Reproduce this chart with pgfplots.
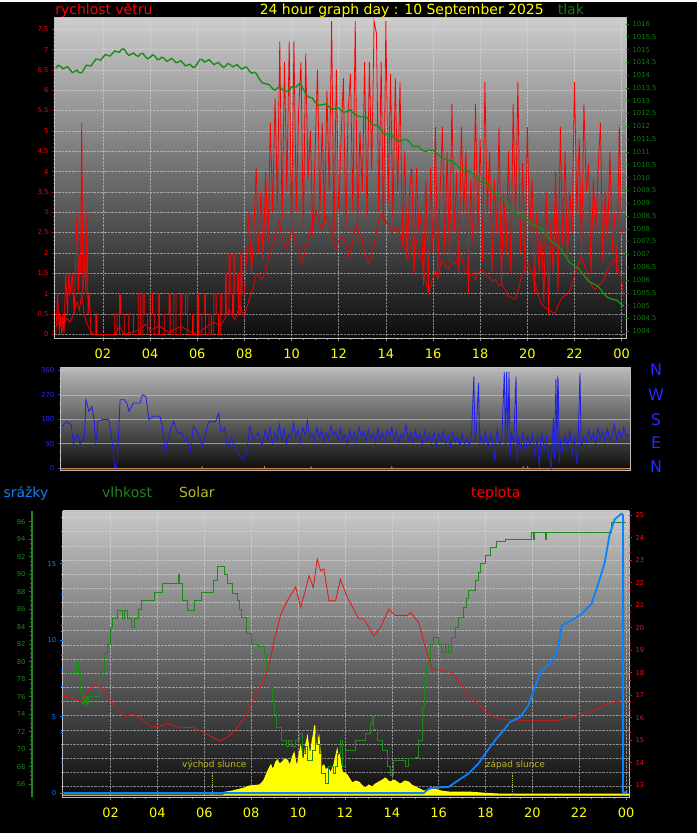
\documentclass[border=0pt]{standalone}
\usepackage{pgfplots}
\pgfplotsset{compat=1.18}
\usepackage{fontspec}
\setmainfont{DejaVu Sans}
\definecolor{wred}{RGB}{255,0,0}
\definecolor{avgred}{RGB}{240,0,0}
\definecolor{pgreen}{RGB}{25,140,25}
\definecolor{tgreen}{RGB}{10,130,10}
\definecolor{dblue}{RGB}{30,30,235}
\definecolor{lblue}{RGB}{40,40,255}
\definecolor{pblue}{RGB}{10,130,255}
\definecolor{hgreen}{RGB}{30,135,30}
\definecolor{tred}{RGB}{230,20,20}
\definecolor{oliv}{RGB}{185,185,40}
\definecolor{ylw}{RGB}{255,255,0}
\definecolor{gridc}{RGB}{220,220,220}
\definecolor{framec}{RGB}{190,190,190}
\definecolor{orng}{RGB}{235,125,35}
\definecolor{bgtop}{RGB}{205,205,205}
\definecolor{mtop}{RGB}{185,185,185}
\definecolor{btop}{RGB}{200,200,200}
\definecolor{bgbot}{RGB}{12,12,12}
\pgfplotsset{
  base/.style={scale only axis, anchor=south west, no markers,
    /pgf/number format/assume math mode=true,
    /pgf/number format/set decimal separator={{,}}, /pgf/number format/1000 sep={},
    tick align=outside, major tick length=3pt, minor tick length=1.5pt,
    ticklabel style={font=\fontsize{6.8}{7.5}\selectfont},
    axis line style={framec, line width=0.8pt}},
  tlabels/.style={xtick={2,4,...,24},
    xticklabels={02,04,06,08,10,12,14,16,18,20,22,00},
    xticklabel style={font=\fontsize{13}{13}\selectfont, text=ylw, yshift=-4pt},
    minor x tick num=3, xtick style={color=gray, line width=0.6pt}},
  dgrid/.style={major grid style={gridc, densely dotted, line width=0.5pt, opacity=0.55}},
}
\begin{document}
\begin{tikzpicture}
\fill[black] (0pt,0pt) rectangle (699pt,833pt);
% ---------------- TOP PANEL: wind speed + pressure
\begin{axis}[base, tlabels, at={(55pt,496pt)}, width=573pt, height=322pt,
  xmin=-0.04, xmax=24.19, ymin=-0.1, ymax=7.79,
  axis background/.style={top color=bgtop, bottom color=bgbot},
  xtick pos=bottom, ytick pos=left,
  ytick={0,0.5,...,7.5}, minor y tick num=4,
  yticklabel style={text=wred}, ytick style={color=wred, line width=0.8pt},
  xmajorgrids, ymajorgrids, dgrid]
\addplot[wred, line width=0.8pt] coordinates {
(0,0) (0.08,1) (0.15,0) (0.2,0.5) (0.25,0) (0.3,0.5) (0.35,0) (0.42,1.5) (0.5,0.5) (0.55,1.5) (0.62,1) (0.7,1.5) (0.78,0.5) (0.85,2) (0.9,3) (0.95,1) (1,2) (1.05,1.5) (1.1,5.2) (1.15,1) (1.22,2) (1.28,1) (1.32,3) (1.37,0.5) (1.42,1) (1.5,0)
(1.7,0) (1.7,0.5) (1.75,0.5) (1.75,0) (2.5,0) (2.5,0.5) (2.6,0.5) (2.6,0) (2.7,0) (2.7,1) (2.75,1) (2.75,0.5) (2.9,0.5) (2.9,0) (3.1,0) (3.1,0.5) (3.3,0.5) (3.3,0) (3.5,0) (3.5,1) (3.6,1) (3.6,0) (3.7,0) (3.7,1) (3.75,1) (3.75,0.5) (3.9,0.5) (3.9,0) (4.0,0) (4.0,1) (4.1,1) (4.1,0.5) (4.2,0.5) (4.2,0) (4.35,0) (4.35,1) (4.4,1) (4.4,0) (4.6,0) (4.6,0.5) (4.8,0.5) (4.8,1) (4.85,1) (4.85,0) (5.0,0) (5.0,1) (5.1,1) (5.1,0) (5.3,0) (5.3,1) (5.35,1) (5.35,0.5) (5.5,0.5) (5.5,1) (5.6,1) (5.6,0) (5.8,0) (5.8,0.5) (5.85,0.5) (5.85,0) (6.0,0) (6.0,1) (6.05,1) (6.05,0) (6.2,0) (6.2,0.5) (6.3,0.5) (6.3,1) (6.35,1) (6.35,0) (6.5,0) (6.5,0.5) (6.6,0.5) (6.6,0) (6.7,0) (6.7,1) (6.8,1) (6.8,0.5) (6.9,0.5) (6.9,0) (7.0,0) (7.0,1) (7.05,1) (7.05,0.5) (7.2,0.5) (7.2,1.5) (7.25,1.5) (7.25,0.5) (7.35,0.5) (7.35,2) (7.4,2) (7.4,1) (7.5,1) (7.5,0.5) (7.55,0.5) (7.55,2) (7.6,2) (7.6,1) (7.7,1) (7.7,1.5) (7.75,1.5) (7.75,0.5) (7.85,0.5) (7.85,2) (7.9,2) (7.9,1)
(8.0,1.0) (8.1,2.0) (8.2,3.0) (8.3,1.5) (8.4,2.5) (8.5,4.1) (8.6,2.0) (8.7,3.5) (8.8,1.8) (8.9,4.0) (9.0,2.2) (9.1,5.2) (9.2,3.0) (9.3,5.8) (9.4,3.2) (9.5,7.2) (9.6,2.8) (9.7,6.7) (9.8,3.5) (9.9,7.2) (10.0,2.6) (10.1,7.2) (10.2,3.0) (10.3,5.5) (10.4,6.7) (10.5,2.5) (10.6,6.9) (10.7,3.8) (10.8,5.0) (10.9,2.4) (11.0,4.5) (11.1,6.5) (11.2,3.0) (11.3,5.2) (11.4,2.8) (11.5,6.0) (11.6,3.5) (11.7,7.7) (11.8,2.4) (11.9,6.5) (12.0,3.0) (12.1,4.8) (12.2,6.3) (12.3,2.5) (12.4,5.5) (12.5,6.4) (12.6,3.0) (12.7,7.7) (12.8,2.6) (12.9,5.0) (13.0,3.5) (13.1,6.7) (13.2,2.8) (13.3,6.7) (13.4,4.0) (13.5,7.7) (13.6,7.4) (13.7,3.0) (13.8,6.7) (13.9,2.5) (14.0,7.7) (14.1,3.2) (14.2,6.4) (14.3,2.8) (14.4,6.3) (14.5,3.5) (14.6,6.2) (14.7,2.2) (14.8,4.5) (14.9,1.8) (15.0,3.5) (15.1,4.1) (15.2,1.5) (15.3,4.1) (15.4,2.5) (15.5,3.0) (15.6,1.2) (15.7,3.8) (15.8,1.0) (15.9,4.1) (16.0,2.0) (16.1,5.1) (16.2,1.5) (16.3,3.5) (16.4,5.1) (16.5,2.0) (16.6,4.5) (16.7,1.8) (16.8,5.66) (16.9,2.5) (17.0,4.0) (17.1,1.5) (17.2,5.1) (17.3,3.0) (17.4,4.5) (17.5,1.0) (17.6,3.8) (17.7,2.2) (17.8,5.66) (17.9,2.5) (18.0,4.8) (18.1,1.8) (18.2,6.2) (18.3,3.0) (18.4,4.5) (18.5,1.5) (18.6,3.8) (18.7,2.5) (18.8,5.1) (18.9,1.2) (19.0,3.5) (19.1,2.0) (19.2,4.5) (19.3,1.5) (19.4,5.66) (19.5,2.8) (19.6,6.2) (19.7,2.0) (19.8,4.2) (19.9,1.5) (20.0,5.1) (20.1,2.5) (20.2,3.8) (20.3,1.0) (20.4,3.0) (20.5,1.5) (20.6,2.5) (20.7,0.8) (20.8,3.5) (20.9,0.5) (21.0,2.8) (21.1,1.5) (21.2,4.0) (21.3,1.0) (21.4,5.1) (21.5,2.2) (21.6,4.5) (21.7,1.8) (21.8,3.5) (21.9,2.5) (22.0,6.2) (22.1,3.0) (22.2,4.8) (22.3,2.0) (22.4,5.66) (22.5,3.5) (22.6,4.2) (22.7,1.5) (22.8,3.8) (22.9,2.5) (23.0,4.0) (23.1,5.2) (23.2,1.8) (23.3,3.5) (23.4,2.2) (23.5,4.5) (23.6,2.0) (23.7,3.0) (23.8,1.5) (23.9,5.1) (24.0,2.5) (24.1,2.6)
};
\addplot[avgred, line width=0.8pt] coordinates {
(0.0,0.2) (0.15,0.3) (0.3,0.1) (0.45,0.4) (0.6,0.3) (0.75,0.5) (0.9,0.8) (1.0,0.6) (1.1,1.0) (1.2,0.5) (1.3,0.3) (1.45,0.1) (1.6,0.0) (2.5,0.0) (2.7,0.2) (2.9,0.0) (3.5,0.1) (3.8,0.25) (4.0,0.1) (4.4,0.2) (4.8,0.05) (5.3,0.2) (5.6,0.1) (6.0,0.0) (6.3,0.15) (6.7,0.3) (7.0,0.2) (7.36,0.6) (7.6,0.35) (7.8,0.7) (7.99,0.44) (8.2,0.86) (8.35,1.1) (8.5,1.5) (8.75,1.35) (8.9,1.55) (9.05,2.0) (9.2,2.2) (9.34,2.5) (9.47,2.8) (9.6,2.4) (9.77,2.1) (9.9,2.3) (10.02,2.6) (10.15,2.3) (10.32,2.1) (10.44,1.75) (10.6,2.1) (10.74,2.5) (10.9,2.7) (11.04,3.05) (11.15,2.8) (11.29,2.6) (11.45,2.9) (11.59,2.7) (11.75,2.4) (11.88,2.1) (12.0,2.3) (12.14,2.4) (12.3,2.2) (12.43,1.9) (12.6,2.3) (12.73,2.7) (12.85,2.5) (12.98,2.4) (13.1,2.0) (13.28,1.74) (13.45,2.1) (13.57,2.4) (13.7,2.8) (13.83,2.97) (13.97,2.8) (14.12,2.7) (14.25,2.5) (14.42,2.65) (14.55,2.5) (14.67,2.33) (14.8,2.1) (14.97,1.9) (15.1,2.2) (15.26,2.4) (15.4,2.0) (15.52,1.84) (15.65,1.4) (15.81,1.0) (15.95,1.3) (16.11,1.6) (16.2,1.35) (16.36,1.84) (16.5,1.7) (16.66,1.6) (16.8,1.8) (16.96,1.74) (17.1,2.0) (17.21,1.9) (17.35,1.6) (17.51,1.42) (17.65,1.5) (17.8,1.35) (17.9,1.5) (18.05,1.6) (18.2,1.5) (18.35,1.42) (18.5,1.3) (18.65,1.35) (18.78,1.2) (18.9,1.25) (19.05,1.1) (19.2,0.93) (19.35,0.9) (19.49,0.86) (19.62,1.1) (19.75,1.42) (19.9,1.6) (20.04,1.74) (20.2,1.5) (20.34,1.25) (20.45,1.0) (20.59,0.76) (20.75,0.65) (20.89,0.61) (21.05,0.55) (21.18,0.52) (21.3,0.7) (21.42,0.86) (21.58,0.95) (21.73,1.0) (21.88,1.2) (22.03,1.5) (22.15,1.7) (22.28,1.9) (22.42,1.7) (22.58,1.42) (22.72,1.2) (22.88,1.1) (23.0,1.2) (23.13,1.25) (23.28,1.4) (23.42,1.6) (23.58,1.75) (23.72,1.84) (23.85,1.6) (23.97,1.42) (24.1,0.93)
};
\end{axis}
\begin{axis}[base, at={(55pt,496pt)}, width=573pt, height=322pt,
  xmin=-0.04, xmax=24.19, ymin=1003.72, ymax=1016.26,
  axis x line=none, axis y line*=right, y axis line style={draw=none},
  ytick={1004,1004.5,...,1016}, minor y tick num=1,
  yticklabel style={text=tgreen}, ytick style={color=tgreen, line width=0.8pt}]
\addplot[pgreen, line width=1.4pt] coordinates {
(0.0,1014.28) (0.1,1014.39) (0.2,1014.35) (0.3,1014.25) (0.4,1014.30) (0.5,1014.33) (0.6,1014.22) (0.7,1014.11) (0.8,1014.15) (0.9,1014.20) (1.0,1014.10) (1.1,1014.10) (1.2,1014.25) (1.3,1014.39) (1.4,1014.38) (1.5,1014.37) (1.6,1014.50) (1.7,1014.63) (1.8,1014.62) (1.9,1014.59) (2.0,1014.70) (2.1,1014.81) (2.2,1014.78) (2.3,1014.75) (2.4,1014.85) (2.5,1014.95) (2.6,1014.92) (2.7,1014.90) (2.8,1015.02) (2.9,1015.02) (3.0,1014.88) (3.1,1014.78) (3.2,1014.82) (3.3,1014.87) (3.4,1014.78) (3.5,1014.74) (3.6,1014.84) (3.7,1014.85) (3.8,1014.72) (3.9,1014.64) (4.0,1014.70) (4.1,1014.80) (4.2,1014.76) (4.3,1014.62) (4.4,1014.62) (4.5,1014.71) (4.6,1014.66) (4.7,1014.55) (4.8,1014.58) (4.9,1014.66) (5.0,1014.60) (5.1,1014.49) (5.2,1014.52) (5.3,1014.57) (5.4,1014.47) (5.5,1014.37) (5.6,1014.40) (5.7,1014.43) (5.8,1014.32) (5.9,1014.32) (6.0,1014.45) (6.1,1014.61) (6.2,1014.62) (6.3,1014.52) (6.4,1014.56) (6.5,1014.61) (6.6,1014.52) (6.7,1014.42) (6.8,1014.46) (6.9,1014.50) (7.0,1014.40) (7.1,1014.31) (7.2,1014.36) (7.3,1014.46) (7.4,1014.42) (7.5,1014.33) (7.6,1014.38) (7.7,1014.41) (7.8,1014.30) (7.9,1014.24) (8.0,1014.31) (8.1,1014.31) (8.2,1014.18) (8.3,1014.08) (8.4,1014.12) (8.5,1014.08) (8.6,1013.90) (8.75,1013.71) (8.9,1013.67) (9.05,1013.64) (9.2,1013.47) (9.3,1013.42) (9.4,1013.50) (9.5,1013.55) (9.6,1013.45) (9.75,1013.36) (9.9,1013.40) (10.0,1013.55) (10.1,1013.55) (10.2,1013.54) (10.32,1013.67) (10.41,1013.63) (10.5,1013.45) (10.62,1013.23) (10.74,1013.15) (10.87,1013.12) (11.0,1012.95) (11.15,1012.83) (11.3,1012.85) (11.45,1012.88) (11.6,1012.76) (11.72,1012.66) (11.85,1012.70) (11.97,1012.74) (12.1,1012.63) (12.22,1012.55) (12.35,1012.60) (12.47,1012.65) (12.6,1012.55) (12.8,1012.40) (13.0,1012.38) (13.15,1012.38) (13.3,1012.24) (13.42,1012.08) (13.55,1012.05) (13.67,1012.02) (13.8,1011.85) (13.95,1011.71) (14.1,1011.70) (14.25,1011.68) (14.4,1011.52) (14.55,1011.42) (14.7,1011.46) (14.85,1011.50) (15.0,1011.40) (15.12,1011.24) (15.25,1011.22) (15.37,1011.23) (15.5,1011.10) (15.65,1011.02) (15.8,1011.07) (16.0,1011.07) (16.2,1010.92) (16.4,1010.74) (16.6,1010.70) (16.8,1010.66) (17.0,1010.48) (17.2,1010.31) (17.4,1010.27) (17.6,1010.23) (17.8,1010.05) (18.0,1009.86) (18.2,1009.80) (18.3,1009.80) (18.4,1009.65) (18.6,1009.41) (18.8,1009.30) (19.0,1009.16) (19.2,1008.87) (19.4,1008.67) (19.6,1008.60) (19.8,1008.55) (20.0,1008.36) (20.2,1008.16) (20.4,1008.10) (20.6,1008.01) (20.8,1007.78) (21.0,1007.52) (21.2,1007.40) (21.4,1007.25) (21.6,1006.95) (21.8,1006.68) (22.0,1006.55) (22.2,1006.44) (22.4,1006.18) (22.6,1005.95) (22.8,1005.85) (23.0,1005.76) (23.2,1005.52) (23.4,1005.32) (23.6,1005.25) (23.8,1005.22) (24.0,1005.04) (24.1,1004.98)
};
\end{axis}
% ---------------- MIDDLE PANEL: wind direction
\begin{axis}[base, at={(61pt,364pt)}, width=571pt, height=103pt,
  xmin=-0.13, xmax=24.17, ymin=-7, ymax=371,
  axis background/.style={top color=mtop, bottom color=bgbot},
  xtick=\empty, ytick={0,90,180,270,360}, minor y tick num=2, ytick pos=left,
  yticklabel style={text=lblue}, ytick style={color=lblue, line width=0.8pt},
  ymajorgrids, major grid style={gray!50!white, line width=0.6pt, opacity=0.7}]
\addplot[orng, line width=1pt] coordinates {(-0.13,-3) (5.88,-3) (5.9,3) (5.92,-3) (8.54,-3) (8.56,3) (8.58,-3) (10.53,-3) (10.55,3) (10.57,-3) (13.98,-3) (14.0,3) (14.02,-3) (19.58,-3) (19.6,3) (19.62,-3) (19.78,-3) (19.8,3) (19.82,-3) (24.17,-3)};
\addplot[dblue, line width=0.8pt] coordinates {
(-0.07,154) (0.12,172) (0.2,165) (0.31,160) (0.41,88) (0.5,115) (0.6,124) (0.69,88) (0.88,118) (0.94,252) (1.07,209) (1.2,227) (1.3,172) (1.36,88) (1.45,172) (1.64,179) (1.92,179) (2.02,124) (2.11,57) (2.17,2) (2.25,2) (2.3,57) (2.4,252) (2.59,252) (2.7,235) (2.78,209) (2.97,240) (3.25,240) (3.35,270) (3.5,264) (3.63,179) (3.82,191) (4.1,191) (4.2,154) (4.33,57) (4.45,106) (4.55,140) (4.68,172) (4.86,130) (5.06,130) (5.15,100) (5.24,112) (5.4,63) (5.53,154) (5.72,130) (5.91,81) (6.04,124) (6.19,172) (6.48,172) (6.61,203) (6.71,130) (6.86,148) (6.99,70) (7.14,112) (7.33,70) (7.52,45) (7.67,33) (7.8,57) (7.94,154) (8.09,106) (8.28,130) (8.47,88)
(8.6,140) (8.7,100) (8.8,150) (8.9,95) (9.0,130) (9.1,105) (9.2,160) (9.3,100) (9.4,145) (9.5,90) (9.6,125) (9.7,110) (9.8,165) (9.9,115) (10.0,140) (10.1,95) (10.2,150) (10.3,120) (10.4,175) (10.5,110) (10.6,130) (10.7,100) (10.8,150) (10.9,115) (11.0,140) (11.1,95) (11.2,130) (11.3,105) (11.4,155) (11.5,120) (11.6,135) (11.7,100) (11.8,145) (11.9,110) (12.0,125) (12.1,90) (12.2,140) (12.3,105) (12.4,130) (12.5,95) (12.6,150) (12.7,115) (12.8,135) (12.9,100) (13.0,140) (13.1,110) (13.2,125) (13.3,95) (13.4,145) (13.5,105) (13.6,130) (13.7,100) (13.8,140) (13.9,115) (14.0,150) (14.1,105) (14.2,135) (14.3,95) (14.4,125) (14.5,110) (14.6,160) (14.7,100) (14.8,130) (14.9,95) (15.0,140) (15.1,105) (15.2,125) (15.3,90) (15.4,135) (15.5,100) (15.6,120) (15.7,95) (15.8,130) (15.9,85) (16.0,125) (16.1,100) (16.2,135) (16.3,90) (16.4,120) (16.5,80) (16.6,130) (16.7,95) (16.8,115) (16.9,85) (17.0,125) (17.1,90) (17.2,110) (17.3,80) (17.4,120) (17.5,337) (17.55,95) (17.6,130) (17.7,314) (17.75,85) (17.8,120) (17.9,90) (18.0,135) (18.1,75) (18.2,125) (18.3,95) (18.4,27) (18.45,110) (18.5,140) (18.6,85) (18.7,120) (18.8,354) (18.85,60) (18.9,354) (18.95,100) (19.0,354) (19.05,40) (19.1,130) (19.2,90) (19.3,337) (19.35,21) (19.4,110) (19.5,75) (19.6,130) (19.7,60) (19.8,115) (19.9,85) (20.0,125) (20.1,50) (20.2,110) (20.3,2) (20.35,95) (20.4,130) (20.5,70) (20.6,115) (20.7,40) (20.8,0) (20.85,110) (20.9,185) (20.95,30) (21.0,327) (21.05,60) (21.08,333) (21.1,327) (21.15,20) (21.2,100) (21.3,60) (21.4,120) (21.5,75) (21.6,140) (21.7,50) (21.8,110) (21.9,15) (21.95,95) (22.03,352) (22.08,80) (22.2,120) (22.3,95) (22.4,140) (22.5,105) (22.6,130) (22.7,90) (22.8,150) (22.9,110) (23.0,135) (23.1,95) (23.2,145) (23.3,105) (23.4,120) (23.5,160) (23.6,100) (23.7,140) (23.8,110) (23.9,150) (24.0,115) (24.1,125)
};
\end{axis}
% ---------------- BOTTOM PANEL
\begin{axis}[base, tlabels, at={(63pt,36pt)}, width=568pt, height=287pt,
  xmin=-0.04, xmax=24.13, ymin=-2, ymax=285,
  axis background/.style={top color=btop, bottom color=bgbot},
  xtick pos=bottom, ytick pos=left,
  ytick={400}, minor ytick={8.7,22.9,...,278.5},
  xmajorgrids, yminorgrids, dgrid,
  minor grid style={gridc, densely dotted, line width=0.5pt, opacity=0.55}]
\addplot[draw=ylw, fill=ylw, line width=1.2pt] coordinates {
(-0.04,0) (6.85,0) (6.85,2.7) (7.2,4) (7.49,5.7) (7.7,7) (7.91,9) (8.1,9.5) (8.34,10) (8.45,12) (8.55,15) (8.62,19) (8.69,23) (8.77,27) (8.84,30) (8.9,26) (8.98,28) (9.05,33) (9.12,35) (9.2,31) (9.33,33) (9.42,36) (9.55,35) (9.62,30) (9.69,32) (9.76,38) (9.83,42) (9.9,33) (9.97,28) (10.04,40) (10.11,48) (10.18,36) (10.26,37) (10.33,50) (10.4,58) (10.47,44) (10.54,42) (10.61,55) (10.67,62) (10.71,70) (10.75,52) (10.8,45) (10.85,55) (10.89,58) (10.95,40) (11.0,28) (11.1,30) (11.18,25) (11.28,27) (11.39,22) (11.46,26) (11.53,30) (11.6,38) (11.67,45) (11.72,36) (11.77,40) (11.83,30) (11.89,23) (12.0,22) (12.1,20) (12.2,16) (12.31,12) (12.45,14) (12.6,13) (12.75,9) (12.88,7) (13.02,10) (13.16,8) (13.3,11) (13.45,13) (13.6,15) (13.73,17) (13.85,14) (13.94,13) (14.1,15) (14.23,13) (14.35,11) (14.44,12) (14.55,14) (14.72,13) (14.85,10) (15.01,8) (15.2,6) (15.36,4) (15.6,5) (15.86,6) (16.1,4) (16.43,3) (17.28,3) (17.84,2) (18.13,1.5) (18.55,1) (24.13,0.8) (24.13,0)
} \closedcycle;
\addplot[oliv, densely dotted, line width=0.8pt] coordinates {(6.34,0) (6.34,23)};
\addplot[oliv, densely dotted, line width=0.8pt] coordinates {(19.15,0) (19.15,23)};
\end{axis}
\begin{axis}[base, at={(63pt,36pt)}, width=568pt, height=287pt,
  xmin=-0.04, xmax=24.13, ymin=64.52, ymax=97.25, hide axis]
\addplot[hgreen, line width=1pt, const plot] coordinates {
(0.05,78.0) (0.15,78.8) (0.55,79.9) (0.62,78.8) (0.7,76.7) (0.78,75.2) (0.85,76.0) (0.9,75.0) (0.95,76.0) (1.0,75.2) (1.05,76.0) (1.53,77.9) (1.6,78.8) (1.74,80.9) (1.85,82.0) (2.0,83.9) (2.1,84.9) (2.3,85.9) (2.5,84.9) (2.6,85.9) (2.7,84.9) (2.9,83.9) (3.0,84.9) (3.2,86.0) (3.3,87.0) (3.87,87.9) (4.23,88.9) (4.9,90.0) (4.96,88.9) (5.08,87.0) (5.29,85.9) (5.57,87.0) (5.86,87.9) (6.4,89.3) (6.57,90.9) (6.85,90.0) (7.0,88.9) (7.2,87.8) (7.4,87.0) (7.5,86.0) (7.6,85.1) (7.8,83.2) (8.0,82.0) (8.3,81.7) (8.55,80.9) (8.65,78.6) (8.8,77.0) (8.9,75.6) (9.0,74.0) (9.1,72.5) (9.3,71.0) (9.5,70.3) (9.6,71.0) (9.7,70.3) (9.9,71.0) (10.05,71.8) (10.2,69.5) (10.3,70.3) (10.4,68.7) (10.6,69.9) (10.75,71.8) (10.85,70.5) (10.9,69.5) (11.0,67.2) (11.15,66.1) (11.3,68.0) (11.5,67.2) (11.6,68.0) (11.7,69.5) (11.8,71.0) (11.89,68.0) (12.03,69.9) (12.45,71.0) (12.88,71.8) (13.09,72.9) (13.16,73.9) (13.23,72.2) (13.37,71.0) (13.59,69.9) (13.8,68.0) (13.94,67.0) (14.09,68.7) (14.58,68.0) (14.72,68.9) (15.01,69.1) (15.15,71.0) (15.29,74.8) (15.4,77.9) (15.5,79.8) (15.65,82.0) (15.79,82.8) (16.0,82.0) (16.14,81.1) (16.28,82.0) (16.43,81.1) (16.57,82.8) (16.71,83.9) (16.85,85.1) (17.06,86.2) (17.2,87.2) (17.28,88.1) (17.56,89.3) (17.7,90.2) (17.77,91.2) (17.99,92.1) (18.2,93.1) (18.48,93.8) (18.84,94.0) (19.97,94.8) (20.05,94.0) (20.1,94.8) (20.55,94.0) (20.6,94.8) (23.23,94.8) (23.38,95.9) (24.0,95.9)
};
\end{axis}
\begin{axis}[base, at={(32pt,36pt)}, width=1pt, height=287pt,
  xmin=0, xmax=1, ymin=64.52, ymax=97.25,
  axis x line=none, axis y line*=left, y axis line style={hgreen, line width=1.8pt},
  ytick={66,68,...,96}, minor y tick num=3,
  yticklabel style={text=hgreen}, ytick style={color=hgreen, line width=0.8pt}]
\end{axis}
\begin{axis}[base, at={(63pt,36pt)}, width=568pt, height=287pt,
  xmin=-0.04, xmax=24.13, ymin=12.47, ymax=25.18,
  axis x line=none, axis y line*=right, y axis line style={draw=none},
  ytick={13,14,...,25}, minor y tick num=2,
  yticklabel style={text=tred}, ytick style={color=tred, line width=0.8pt}]
\addplot[tred, line width=0.8pt] coordinates {
(0.0,16.94) (0.11,16.94) (0.4,16.85) (0.75,16.69) (1.03,17.2) (1.32,17.5) (1.53,17.5) (1.89,16.9) (2.24,16.47) (2.6,16.05) (2.95,16.17) (3.3,15.95) (3.73,15.58) (4.01,15.6) (4.44,15.73) (4.86,15.58) (5.57,15.55) (6.07,15.29) (6.64,14.96) (6.99,15.14) (7.42,15.58) (7.84,16.17) (8.13,16.91) (8.55,17.65) (8.77,18.39) (8.98,19.42) (9.26,20.6) (9.54,21.19) (9.9,21.81) (10.11,20.9) (10.3,21.6) (10.47,22.3) (10.65,21.78) (10.82,23.04) (10.96,22.52) (11.1,22.6) (11.32,21.19) (11.6,21.19) (11.81,22.15) (12.1,21.34) (12.6,20.38) (12.81,20.38) (13.23,19.64) (13.52,20.01) (13.87,20.82) (14.16,20.53) (14.65,20.53) (14.8,20.67) (15.15,20.23) (15.43,19.12) (15.72,18.17) (16.14,18.09) (16.57,18.02) (16.85,17.65) (17.28,16.91) (17.7,16.62) (17.99,16.24) (18.41,16.02) (18.84,15.91) (19.4,15.88) (21.1,15.88) (21.67,16.02) (22.24,16.17) (22.81,16.4) (23.23,16.62) (23.8,16.76)
};
\end{axis}
\begin{axis}[base, at={(63pt,36pt)}, width=568pt, height=287pt,
  xmin=-0.04, xmax=24.13, ymin=-0.26, ymax=18.46,
  axis x line=none, axis y line*=left, y axis line style={draw=none},
  ytick={0,5,10,15}, minor y tick num=4,
  yticklabel style={text=pblue}, ytick style={color=pblue, line width=0.8pt}]
\addplot[pblue, line width=1.8pt] coordinates {
(-0.02,0) (15.36,0) (15.6,0.3) (15.86,0.37) (16.43,0.41) (16.85,0.85) (17.28,1.28) (17.7,1.94) (17.99,2.59) (18.41,3.46) (18.77,4.11) (19.05,4.65) (19.48,4.98) (19.83,5.74) (20.11,6.93) (20.4,8.02) (20.75,8.46) (21.03,9.11) (21.15,10.0) (21.25,10.96) (21.67,11.29) (22.1,11.72) (22.52,12.37) (22.81,13.68) (23.09,15.09) (23.3,16.94) (23.52,17.92) (23.8,18.28) (23.87,18.2) (23.87,0.0) (24.05,0.1)
};
\end{axis}
% ---------------- texts
\node[anchor=base west, text=wred, font=\fontsize{14}{14}\selectfont] at (52pt,821pt) {rychlost větru};
\node[anchor=base west, text=ylw, font=\fontsize{14}{14}\selectfont] at (257pt,821pt) {24 hour graph day : 10 September 2025};
\node[anchor=base west, text=tgreen, font=\fontsize{14}{14}\selectfont] at (556pt,821pt) {tlak};
\node[anchor=base west, text=pblue, font=\fontsize{14}{14}\selectfont] at (0pt,337pt) {srážky};
\node[anchor=base west, text=hgreen, font=\fontsize{14}{14}\selectfont] at (99pt,337pt) {vlhkost};
\node[anchor=base west, text=oliv, font=\fontsize{14}{14}\selectfont] at (176pt,337pt) {Solar};
\node[anchor=base west, text=wred, font=\fontsize{14}{14}\selectfont] at (469pt,337pt) {teplota};
\foreach \t/\yy in {N/465,W/440,S/415,E/391,N/367}
  \node[text=lblue, font=\fontsize{16}{16}\selectfont] at (658pt,\yy pt) {\t};
\node[text=oliv, font=\fontsize{9}{9}\selectfont] at (215pt,68pt) {východ slunce};
\node[text=oliv, font=\fontsize{9}{9}\selectfont] at (517pt,68pt) {západ slunce};
\end{tikzpicture}
\end{document}
